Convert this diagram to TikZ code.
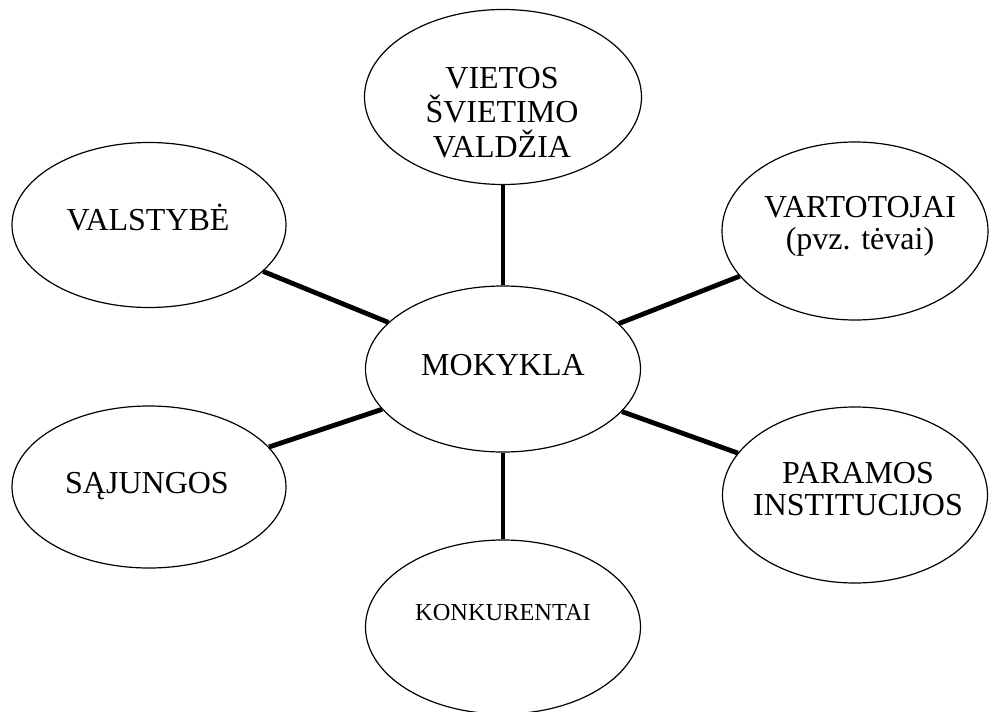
\documentclass[tikz,border=0pt]{standalone}
\usepackage{fontspec}
\setmainfont{Liberation Serif}
\usetikzlibrary{shapes.geometric}
\begin{document}
\begin{tikzpicture}[x=1pt,y=-1pt,
  oval/.style={draw=black,line width=1.2pt,ellipse,inner sep=0pt,fill=white},
  lbl/.style={anchor=base,inner sep=0pt,font=\fontsize{32}{36}\selectfont},
  slbl/.style={anchor=base,inner sep=0pt,font=\fontsize{24.4}{28}\selectfont},
  link/.style={line width=4.8pt}]
\useasboundingbox[fill=white] (0,0) rectangle (989,712);
% ellipses
\node[oval,minimum width=277pt,minimum height=175pt] (vvv) at (503,97) {};
\node[oval,minimum width=274pt,minimum height=165pt] (val) at (149,225) {};
\node[oval,minimum width=266pt,minimum height=178pt] (var) at (855,231) {};
\node[oval,minimum width=275pt,minimum height=166pt] (mok) at (503,369) {};
\node[oval,minimum width=274pt,minimum height=162pt] (saj) at (149,487) {};
\node[oval,minimum width=265pt,minimum height=176pt] (par) at (855,495) {};
\node[oval,minimum width=275pt,minimum height=174pt] (kon) at (503,627) {};
% connectors
\draw[link] (vvv) -- (mok);
\draw[link] (val) -- (mok);
\draw[link] (var) -- (mok);
\draw[link] (saj) -- (mok);
\draw[link] (par) -- (mok);
\draw[link] (kon) -- (mok);
% texts
\node[lbl] (t1a) at (502,88) {VIETOS};
\node[lbl] (t1b) at (502,122) {ŠVIETIMO};
\node[lbl] (t1c) at (502,157) {VALDŽIA};
\node[lbl] (t2) at (148,230) {VALSTYBĖ};
\node[lbl] (t3a) at (860,217) {VARTOTOJAI};
\node[lbl] (t3b) at (860,249) {(pvz. tėvai)};
\node[lbl] (t4) at (503,375) {MOKYKLA};
\node[lbl] (t5) at (147,493) {SĄJUNGOS};
\node[lbl] (t6a) at (858,483) {PARAMOS};
\node[lbl] (t6b) at (858,515) {INSTITUCIJOS};
\node[slbl] (t7) at (503,620) {KONKURENTAI};
\end{tikzpicture}
\end{document}
